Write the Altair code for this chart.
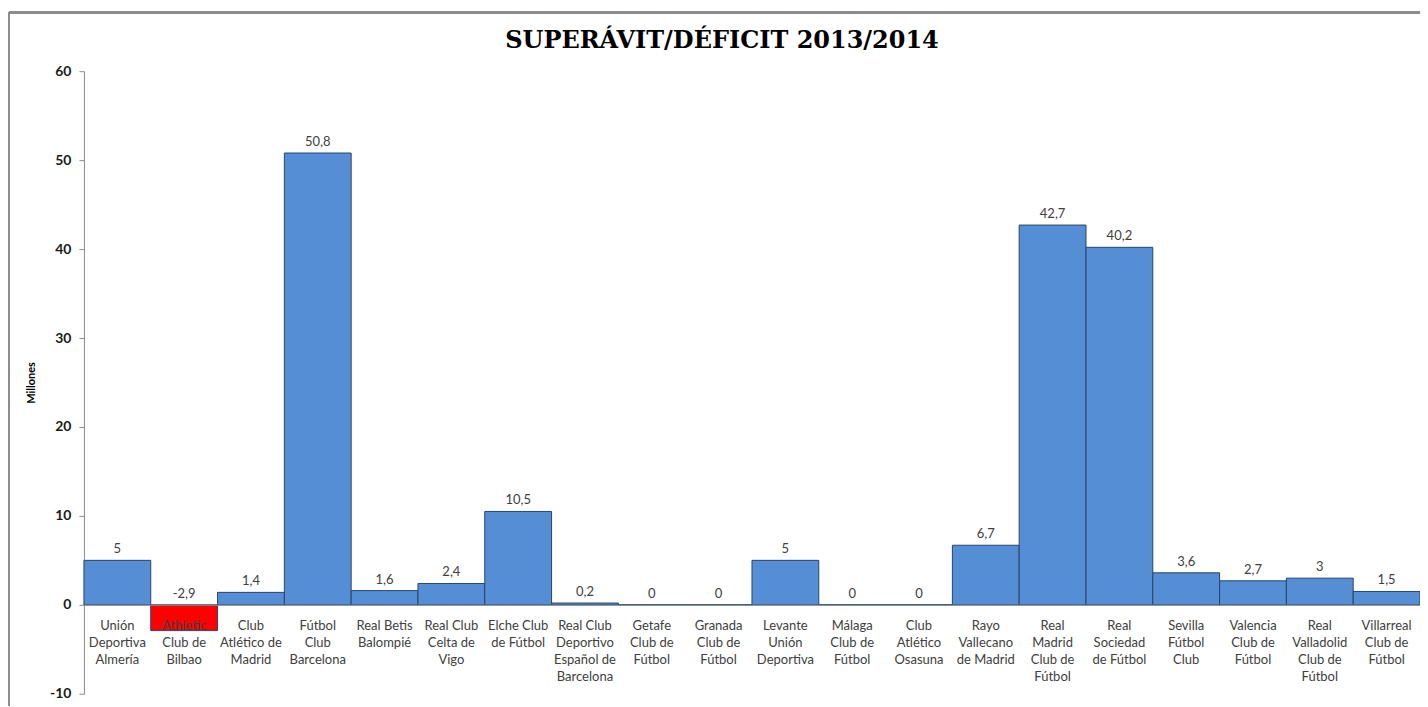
import altair as alt
import pandas as pd

clubs = [
    "Unión\nDeportiva\nAlmería",
    "Athletic\nClub de\nBilbao",
    "Club\nAtlético de\nMadrid",
    "Fútbol\nClub\nBarcelona",
    "Real Betis\nBalompié",
    "Real Club\nCelta de\nVigo",
    "Elche Club\nde Fútbol",
    "Real Club\nDeportivo\nEspañol de\nBarcelona",
    "Getafe\nClub de\nFútbol",
    "Granada\nClub de\nFútbol",
    "Levante\nUnión\nDeportiva",
    "Málaga\nClub de\nFútbol",
    "Club\nAtlético\nOsasuna",
    "Rayo\nVallecano\nde Madrid",
    "Real\nMadrid\nClub de\nFútbol",
    "Real\nSociedad\nde Fútbol",
    "Sevilla\nFútbol\nClub",
    "Valencia\nClub de\nFútbol",
    "Real\nValladolid\nClub de\nFútbol",
    "Villarreal\nClub de\nFútbol",
]
values = [5, -2.9, 1.4, 50.8, 1.6, 2.4, 10.5, 0.2, 0, 0, 5, 0, 0, 6.7, 42.7, 40.2, 3.6, 2.7, 3, 1.5]

df = pd.DataFrame({"club": clubs, "valor": values})

FONT = "Lato"
x_enc = alt.X("club:N", sort=None,
              scale=alt.Scale(paddingInner=0, paddingOuter=0),
              axis=alt.Axis(title=None, labelAngle=0, ticks=False, offset=-89,
                            labelExpr="split(datum.label, '\\n')",
                            labelFont=FONT, labelFontSize=13, labelColor="#404040",
                            labelLineHeight=17, labelPadding=15, labelBaseline="top",
                            domainColor="#8c8c8c", zindex=1))
y_scale = alt.Scale(domain=[-10, 60], nice=False, zero=False)

bars = alt.Chart(df).mark_bar(stroke="#27446b", strokeWidth=1).encode(
    x=x_enc,
    y=alt.Y("valor:Q", scale=y_scale,
            axis=alt.Axis(title="Millones", values=[-10, 0, 10, 20, 30, 40, 50, 60],
                          labelExpr="replace(datum.label, '\u2212', '-')",
                          grid=False, labelFont=FONT, labelFontSize=14, labelFontWeight="bold",
                          labelColor="#1a1a1a", labelPadding=8, tickSize=5, tickColor="#8c8c8c",
                          domainColor="#8c8c8c", titleFont=FONT, titleFontSize=11,
                          titleFontWeight="bold", titleColor="#000000", titlePadding=13)),
    y2=alt.datum(0),
    color=alt.condition(alt.datum.valor < 0, alt.value("#ff0000"), alt.value("#558ed5")),
)

labels = alt.Chart(df).transform_calculate(
    pos="max(datum.valor, 0)",
    txt="replace(replace(format(datum.valor, '.1~f'), '.', ','), '\u2212', '-')",
).mark_text(font=FONT, fontSize=13, color="#404040", baseline="bottom", dy=-4).encode(
    x=alt.X("club:N", sort=None),
    y=alt.Y("pos:Q", scale=y_scale),
    text="txt:N",
)

frame_top = alt.Chart(df).mark_rule(color="#8c8c8c", strokeWidth=2).encode(
    x=alt.value(-75), x2=alt.value(1345), y=alt.value(-59))
frame_left = alt.Chart(df).mark_rule(color="#8c8c8c", strokeWidth=2).encode(
    x=alt.value(-75), y=alt.value(-59), y2=alt.value(640))

chart = alt.layer(frame_top, frame_left, bars, labels).properties(
    width=1337, height=623,
    title=alt.TitleParams("SUPERÁVIT/DÉFICIT 2013/2014", font="DejaVu Serif",
                          fontSize=24, fontWeight="bold", color="#000000",
                          anchor="middle", dx=-30, offset=-42),
    autosize=alt.AutoSizeParams(type="none"),
    padding={"left": 76, "top": 63, "right": 0, "bottom": 12},
).configure_view(stroke=None)

chart.save("out.html", embed_options={"renderer": "svg", "actions": False})
